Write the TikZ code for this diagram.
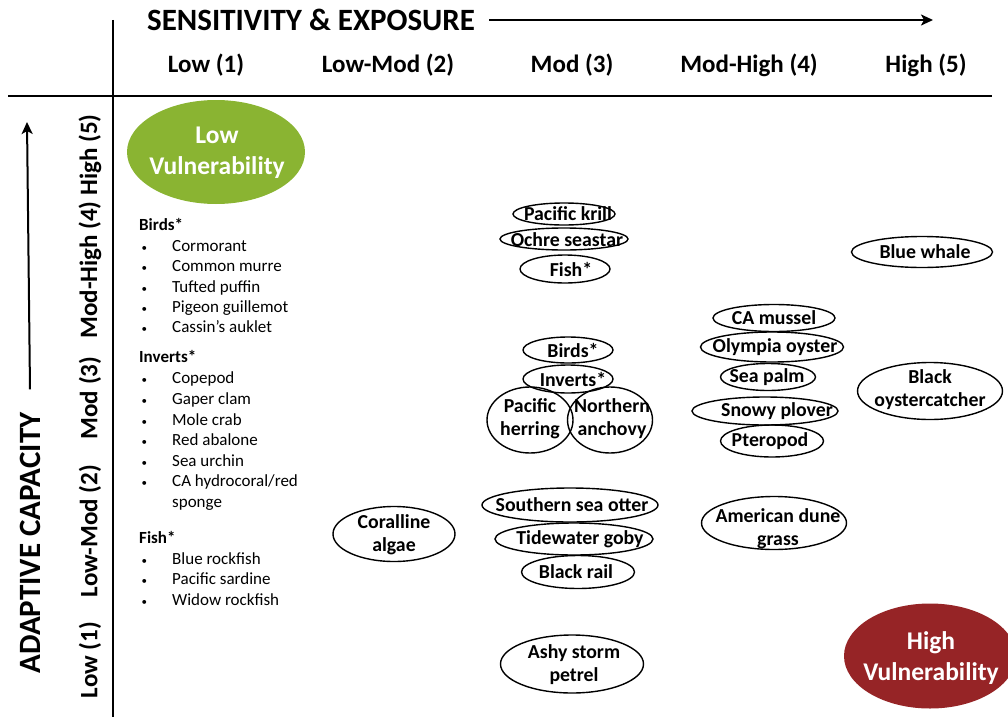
\documentclass[tikz,border=0pt]{standalone}
\usepackage{fontspec}
\setmainfont{Carlito}
\usetikzlibrary{arrows.meta,shapes.geometric}
\definecolor{lowgreen}{RGB}{138,180,50}
\definecolor{highred}{RGB}{150,36,38}
\tikzset{
  oval/.style={draw, ellipse, line width=1.4pt, inner sep=0pt},
  sp/.style={font=\bfseries\fontsize{19.8}{23}\selectfont, align=center, inner sep=0pt},
  hdr/.style={font=\bfseries\fontsize{25}{27}\selectfont, inner sep=0pt},
  item/.style={anchor=west, inner sep=0pt, font=\fontsize{17}{20}\selectfont, text height=12pt, text depth=4pt},
  grp/.style={item, font=\bfseries\fontsize{17}{20}\selectfont},
  vul/.style={ellipse, inner sep=0pt},
  vultext/.style={inner sep=0pt, text=white, align=center, font=\bfseries\fontsize{25.5}{31}\selectfont},
}
\newcommand{\bul}{\makebox[32pt][l]{\hspace{1.5pt}\fontsize{11}{11}\selectfont\textbullet}}

\begin{document}
\begin{tikzpicture}[x=1pt,y=-1pt]
    \useasboundingbox (0,0) rectangle (1008,717);
    % axes
    \draw[line width=2.4pt](113,20)--(113,717);
    \draw[line width=2.4pt](8,96)--(992,96);
    \node[font=\bfseries\fontsize{31}{33}\selectfont,anchor=west,inner sep=0pt] (sens) at (147,20) {SENSITIVITY \& EXPOSURE};
    \coordinate (sarrow) at (933,20);
    \draw[line width=2pt,-{Stealth[length=12pt,width=11pt,inset=3pt]}]([xshift=14pt]sens.east)--(sarrow);
    \node[font=\bfseries\fontsize{31}{33}\selectfont,rotate=90,inner sep=0pt] (adap) at (30,543) {ADAPTIVE CAPACITY};
    \coordinate (aarrow) at (27,122);
    \draw[line width=2pt,-{Stealth[length=12pt,width=11pt,inset=3pt]}]([yshift=23pt]adap.east)--(aarrow);
    % column headers
    \node[hdr] (c1) at (206,65) {Low (1)};
    \node[hdr] (c2) at (388,65) {Low-Mod (2)};
    \node[hdr] (c3) at (572,65) {Mod (3)};
    \node[hdr] (c4) at (749,65) {Mod-High (4)};
    \node[hdr] (c5) at (926,65) {High (5)};
    % row headers
    \node[hdr,rotate=90] (r5) at (90,155) {High (5)};
    \node[hdr,rotate=90] (r4) at (90,270) {Mod-High (4)};
    \node[hdr,rotate=90] (r3) at (90,398) {Mod (3)};
    \node[hdr,rotate=90] (r2) at (90,531) {Low-Mod (2)};
    \node[hdr,rotate=90] (r1) at (90,660) {Low (1)};
    % corner ellipses
    \node[vul,fill=lowgreen,minimum width=178pt,minimum height=104pt] (lowv) at (216,152) {};
    \node[vultext] (lowt) at (217,153) {Low\\Vulnerability};
    \node[vul,fill=highred,minimum width=172pt,minimum height=105pt] (highv) at (930,656) {};
    \node[vultext] (hight) at (931,658) {High\\Vulnerability};
    % low sensitivity list
    \node[grp] (birds) at (139,226) {Birds*};
    \node[item] (b1) at (140,247) {\bul Cormorant};
    \node[item] (b2) at (140,267) {\bul Common murre};
    \node[item] (b3) at (140,288) {\bul Tufted puffin};
    \node[item] (b4) at (140,308) {\bul Pigeon guillemot};
    \node[item] (b5) at (140,328) {\bul Cassin’s auklet};
    \node[grp] (inverts) at (139,358) {Inverts*};
    \node[item] (i1) at (140,379) {\bul Copepod};
    \node[item] (i2) at (140,400) {\bul Gaper clam};
    \node[item] (i3) at (140,421) {\bul Mole crab};
    \node[item] (i4) at (140,441) {\bul Red abalone};
    \node[item] (i5) at (140,462) {\bul Sea urchin};
    \node[item] (i6) at (140,482) {\bul CA hydrocoral/red};
    \node[item] (i6b) at (172,503) {sponge};
    \node[grp] (fish) at (139,539) {Fish*};
    \node[item] (f1) at (140,560) {\bul Blue rockfish};
    \node[item] (f2) at (140,580) {\bul Pacific sardine};
    \node[item] (f3) at (140,601) {\bul Widow rockfish};
    % species ellipses
    \node[oval,minimum width=102pt,minimum height=22pt] (krill) at (564,214) {};
    \node[oval,minimum width=128pt,minimum height=22pt] (ochre) at (564,239) {};
    \node[oval,minimum width=90pt,minimum height=28pt] (fishm) at (565,269) {};
    \node[oval,minimum width=90pt,minimum height=26pt] (birdsm) at (568,350) {};
    \node[oval,minimum width=90pt,minimum height=28pt] (invm) at (568,379) {};
    \node[oval,minimum width=86pt,minimum height=66pt] (herring) at (530,420) {};
    \node[oval,minimum width=85pt,minimum height=66pt] (anchovy) at (610,420) {};
    \node[oval,minimum width=122pt,minimum height=55pt] (coralline) at (394,534) {};
    \node[oval,minimum width=176pt,minimum height=34pt] (otter) at (570,505) {};
    \node[oval,minimum width=158pt,minimum height=32pt] (goby) at (574,539) {};
    \node[oval,minimum width=113pt,minimum height=33pt] (rail) at (578,572) {};
    \node[oval,minimum width=143pt,minimum height=58pt] (petrel) at (572,664) {};
    \node[oval,minimum width=141pt,minimum height=31pt] (whale) at (922,252) {};
    \node[oval,minimum width=122pt,minimum height=27pt] (mussel) at (774,318) {};
    \node[oval,minimum width=143pt,minimum height=30pt] (oyster) at (772,347) {};
    \node[oval,minimum width=95pt,minimum height=27pt] (palm) at (768,377) {};
    \node[oval,minimum width=146pt,minimum height=28pt] (plover) at (765,411) {};
    \node[oval,minimum width=103pt,minimum height=32pt] (pteropod) at (772,441) {};
    \node[oval,minimum width=145pt,minimum height=57pt] (catcher) at (930,391) {};
    \node[oval,minimum width=145pt,minimum height=53pt] (dune) at (774,523) {};
    % species names
    \node[sp] (tkrill) at (568,214) {Pacific krill};
    \node[sp] (tochre) at (567,240) {Ochre seastar};
    \node[sp] (tfish) at (571,269) {Fish*};
    \node[sp] (tbirds) at (573,350) {Birds*};
    \node[sp] (tinv) at (573,379) {Inverts*};
    \node[sp] (therring) at (530,419) {Pacific\\herring};
    \node[sp] (tanchovy) at (612,419) {Northern\\anchovy};
    \node[sp] (tcoralline) at (394,535) {Coralline\\algae};
    \node[sp] (totter) at (572,505) {Southern sea otter};
    \node[sp] (tgoby) at (580,539) {Tidewater goby};
    \node[sp] (trail) at (576,572) {Black rail};
    \node[sp] (tpetrel) at (574,665) {Ashy storm\\petrel};
    \node[sp] (twhale) at (925,252) {Blue whale};
    \node[sp] (tmussel) at (774,318) {CA mussel};
    \node[sp] (toyster) at (775,347) {Olympia oyster};
    \node[sp] (tpalm) at (767,377) {Sea palm};
    \node[sp] (tplover) at (777,411) {Snowy plover};
    \node[sp] (tpteropod) at (770,441) {Pteropod};
    \node[sp] (tcatcher) at (930,390) {Black\\oystercatcher};
    \node[sp] (tdune) at (778,529) {American dune\\grass};
\end{tikzpicture}
\end{document}
